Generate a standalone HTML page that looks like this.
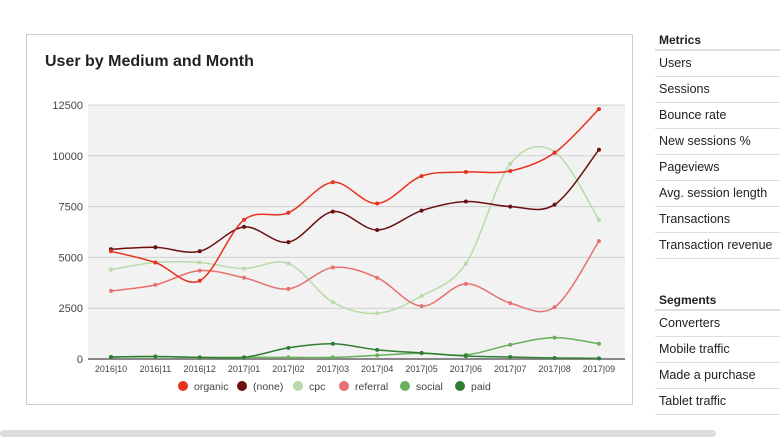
<!DOCTYPE html>
<html><head><meta charset="utf-8"><style>
body{margin:0;width:780px;height:438px;background:#fff;font-family:"Liberation Sans",sans-serif;overflow:hidden;position:relative}
.card{position:absolute;left:26px;top:34px;width:607px;height:371px;border:1px solid #ccc;box-sizing:border-box}
.side{position:absolute;left:655px;width:125px}
.side div{height:25px;border-bottom:1px solid #ddd;font-size:12.5px;color:#222;line-height:24px;padding-left:4px;box-sizing:content-box}
.side .h{font-weight:bold;font-size:12px;height:15px;line-height:12px;border-bottom:2px solid #ddd}
.scroll{position:absolute;left:0;top:430px;width:716px;height:7px;background:#ddd;border-radius:4px}
</style></head><body>
<div class="card"></div>
<svg id="s" width="780" height="438" style="position:absolute;left:0;top:0" font-family="Liberation Sans, sans-serif"></svg>
<div class="side" style="top:34px"><div class="h">Metrics</div><div>Users</div><div>Sessions</div><div>Bounce rate</div><div>New sessions %</div><div>Pageviews</div><div>Avg. session length</div><div>Transactions</div><div>Transaction revenue</div></div>
<div class="side" style="top:294px"><div class="h">Segments</div><div>Converters</div><div>Mobile traffic</div><div>Made a purchase</div><div>Tablet traffic</div></div>
<div class="scroll"></div>
<script>
var s=document.getElementById('s'),h='';
h+='<text x="45" y="66" font-size="16" font-weight="bold" fill="#222">User by Medium and Month</text>';
h+='<rect x="88" y="105" width="537" height="254" fill="#f2f2f2"/>';
function Y(v){return 359-v*254/12500}
function X(i){return 111+i*44.36}
for(var k=0;k<=5;k++){var y=Y(k*2500);h+='<line x1="88" x2="625" y1="'+y+'" y2="'+y+'" stroke="'+(k?'#d0d0d0':'#888')+'" stroke-width="'+(k?1:2)+'"/><text x="83" y="'+(y+4)+'" font-size="11" fill="#444" text-anchor="end">'+(k*2500)+'</text>';}
var L=['2016|10','2016|11','2016|12','2017|01','2017|02','2017|03','2017|04','2017|05','2017|06','2017|07','2017|08','2017|09'];
L.forEach(function(t,i){h+='<text x="'+X(i)+'" y="372" font-size="9" fill="#444" text-anchor="middle">'+t+'</text>'});
var S=[
['social','#6aaf5a',[100,120,80,80,80,80,180,280,200,700,1050,750]],
['paid','#2e7d32',[100,120,80,80,550,750,450,300,150,100,50,30]],
['cpc','#b7dba8',[4400,4750,4750,4450,4700,2800,2250,3100,4700,9600,10200,6850]],
['referral','#e87070',[3350,3650,4350,4000,3450,4500,4000,2600,3700,2750,2550,5800]],
['(none)','#6b0f0f',[5400,5500,5300,6500,5750,7250,6350,7300,7750,7500,7600,10300]],
['organic','#e8321e',[5300,4750,3850,6850,7200,8700,7650,9000,9200,9250,10150,12300]]];
S.forEach(function(r){var p=r[2].map(function(v,i){return[X(i),Y(v)]});var d='M'+p[0];
for(var i=0;i<p.length-1;i++){var a=p[Math.max(i-1,0)],b=p[i],c=p[i+1],e=p[Math.min(i+2,p.length-1)];
d+=' C'+(b[0]+(c[0]-a[0])/6)+','+(b[1]+(c[1]-a[1])/6)+' '+(c[0]-(e[0]-b[0])/6)+','+(c[1]-(e[1]-b[1])/6)+' '+c;}
h+='<path d="'+d+'" fill="none" stroke="'+r[1]+'" stroke-width="1.5"/>';
p.forEach(function(q){h+='<circle cx="'+q[0]+'" cy="'+q[1]+'" r="2" fill="'+r[1]+'"/>'})});
var lg=[['organic','#e8321e',183],['(none)','#6b0f0f',242],['cpc','#b7dba8',298],['referral','#e87070',344],['social','#6aaf5a',405],['paid','#2e7d32',460]];
lg.forEach(function(g){h+='<circle cx="'+g[2]+'" cy="386" r="5" fill="'+g[1]+'"/><text x="'+(g[2]+11)+'" y="390" font-size="10.5" fill="#444">'+g[0]+'</text>'});
s.innerHTML=h;
</script>
</body></html>
